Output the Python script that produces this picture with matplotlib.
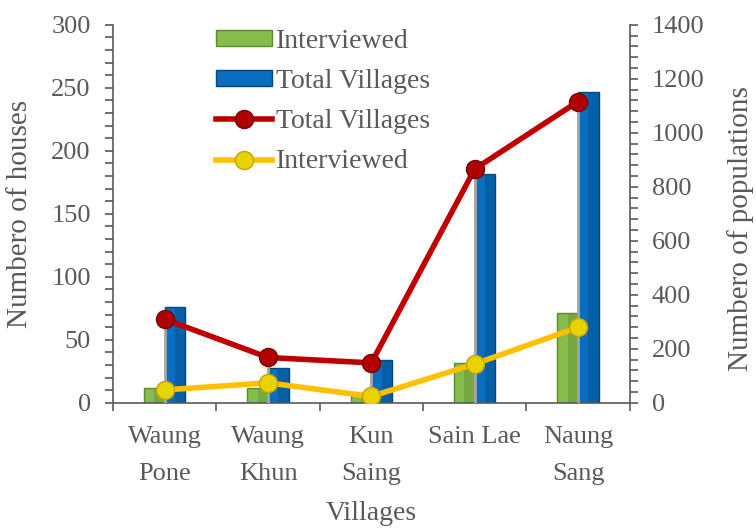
import numpy as np
import matplotlib
matplotlib.use("Agg")
import matplotlib.pyplot as plt
from matplotlib.lines import Line2D
from matplotlib.patches import Patch

villages = ["Waung\nPone", "Waung\nKhun", "Kun\nSaing", "Sain Lae", "Naung\nSang"]
houses_interviewed = [12, 12, 8, 32, 71]
houses_total = [76, 28, 34, 182, 247]
pop_total = [310, 168, 148, 866, 1116]
pop_interviewed = [48, 74, 24, 144, 280]

plt.rcParams['font.family'] = ['Liberation Serif', 'DejaVu Serif']
txt = '#595959'
green, green_edge = '#86BC4C', '#5A8A2A'
blue, blue_edge = '#0A6EC0', '#05457D'

fig = plt.figure(figsize=(7.56, 5.28), dpi=100)
ax = fig.add_axes([0.1495, 0.237, 0.6835, 0.716])
x = np.arange(len(villages))
w = 0.2

ax.bar(x - w / 2, houses_interviewed, w, color=green, edgecolor=green_edge, linewidth=1, zorder=2)
ax.bar(x + w / 2, houses_total, w, color=blue, edgecolor=blue_edge, linewidth=1, zorder=2)
# simple bevel: darker right half strip
ax.bar(x + w / 2 + w / 4, houses_total, w / 2, color='#05528F', linewidth=0, zorder=2.1, alpha=0.5)
ax.bar(x - w / 2 + w / 4, houses_interviewed, w / 2, color='#5E8F30', linewidth=0, zorder=2.1, alpha=0.4)

ax.set_xlim(-0.5, len(villages) - 0.5)
ax.set_ylim(0, 300)
ax.set_yticks(np.arange(0, 301, 50))
ax.set_yticks(np.arange(0, 301, 10), minor=True)
ax.set_xticks(np.arange(-0.5, len(villages), 1))
ax.set_xticklabels([])
ax.set_xticks(x, minor=True)
ax.set_xticklabels(villages, minor=True, linespacing=1.85)
ax.tick_params(axis='x', which='minor', length=0, pad=17, labelsize=19, labelcolor=txt)
ax.tick_params(axis='x', which='major', length=6, width=1.2, color=txt)
ax.tick_params(axis='y', which='both', length=6, width=1.2, color=txt, pad=10,
               labelsize=19, labelcolor=txt)
ax.set_ylabel("Numbero of houses", fontsize=21, color=txt)
ax.yaxis.set_label_coords(-0.155, 0.5)
ax.set_xlabel("Villages", fontsize=20, color=txt)
ax.xaxis.set_label_coords(0.5, -0.26)
for s in ['top', 'right']:
    ax.spines[s].set_visible(False)
for s in ['left', 'bottom']:
    ax.spines[s].set_color(txt)
    ax.spines[s].set_linewidth(1.2)

ax2 = ax.twinx()
ax2.set_ylim(0, 1400)
ax2.set_yticks(np.arange(0, 1401, 200))
ax2.set_yticks(np.arange(0, 1401, 40), minor=True)
ax2.tick_params(axis='y', which='both', length=6, width=1.2, color=txt, pad=10,
                labelsize=19, labelcolor=txt)
ax2.set_ylabel("Numbero of populations", fontsize=21, color=txt, rotation=90)
ax2.yaxis.set_label_coords(1.188, 0.46)
for s in ['top', 'left', 'bottom']:
    ax2.spines[s].set_visible(False)
ax2.spines['right'].set_color(txt)
ax2.spines['right'].set_linewidth(1.2)

# drop lines
ax2.vlines(x, 0, np.maximum(pop_total, pop_interviewed), color='#A6A6A6', linewidth=2, zorder=3)
red_kw = dict(color='#C00000', linewidth=4, marker='o', markersize=13,
              markerfacecolor='#B00000', markeredgecolor='#7A0000', markeredgewidth=1)
yel_kw = dict(color='#FFC000', linewidth=4, marker='o', markersize=13,
              markerfacecolor='#E8D200', markeredgecolor='#C9A000', markeredgewidth=1)
ax2.plot(x, pop_total, zorder=4, **red_kw)
ax2.plot(x, pop_interviewed, zorder=5, **yel_kw)

handles = [
    Patch(facecolor=green, edgecolor=green_edge),
    Patch(facecolor=blue, edgecolor=blue_edge),
    Line2D([], [], **red_kw),
    Line2D([], [], **yel_kw),
]
labels = ["Interviewed", "Total Villages", "Total Villages", "Interviewed"]
leg = ax2.legend(handles, labels, loc='upper left', bbox_to_anchor=(0.2, 0.99), frameon=False,
                 fontsize=20, handlelength=2.0, handleheight=0.5, labelspacing=0.55,
                 handletextpad=0.15, borderaxespad=0, borderpad=0)
for t in leg.get_texts():
    t.set_color(txt)

fig.savefig("out.png", dpi=100)
